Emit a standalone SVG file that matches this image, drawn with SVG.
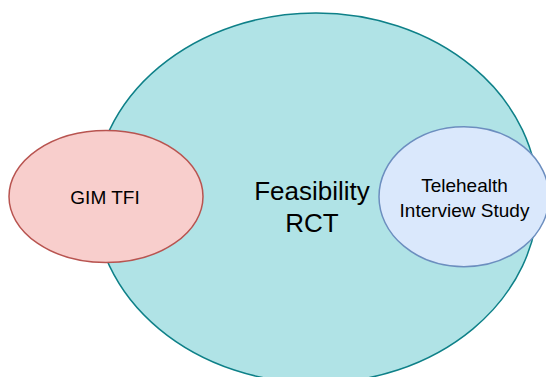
<svg xmlns="http://www.w3.org/2000/svg" width="546" height="377" viewBox="0 0 546 377">
<style>
text{font-family:"Liberation Sans",Arial,sans-serif;fill:#000;text-anchor:middle}
.big{fill:#b0e3e6;stroke:#0e8088;stroke-width:1.5}
.pink{fill:#f8cecc;stroke:#b85450;stroke-width:1.5}
.blue{fill:#dae8fc;stroke:#6c8ebf;stroke-width:1.5}
</style>
<rect width="546" height="377" fill="#fff"/>
<g id="feasibility-rct">
<ellipse class="big" cx="316" cy="198" rx="222" ry="185"/>
<text x="312" y="199.5" font-size="26">Feasibility</text>
<text x="312" y="232" font-size="26">RCT</text>
</g>
<g id="gim-tfi">
<ellipse class="pink" cx="106" cy="196.5" rx="97" ry="66"/>
<text x="105" y="204" font-size="19">GIM TFI</text>
</g>
<g id="telehealth">
<ellipse class="blue" cx="464" cy="196.7" rx="85" ry="70"/>
<text x="464.5" y="192" font-size="19">Telehealth</text>
<text x="464.5" y="216.5" font-size="19">Interview Study</text>
</g>
<g id="connectors"/>
</svg>
